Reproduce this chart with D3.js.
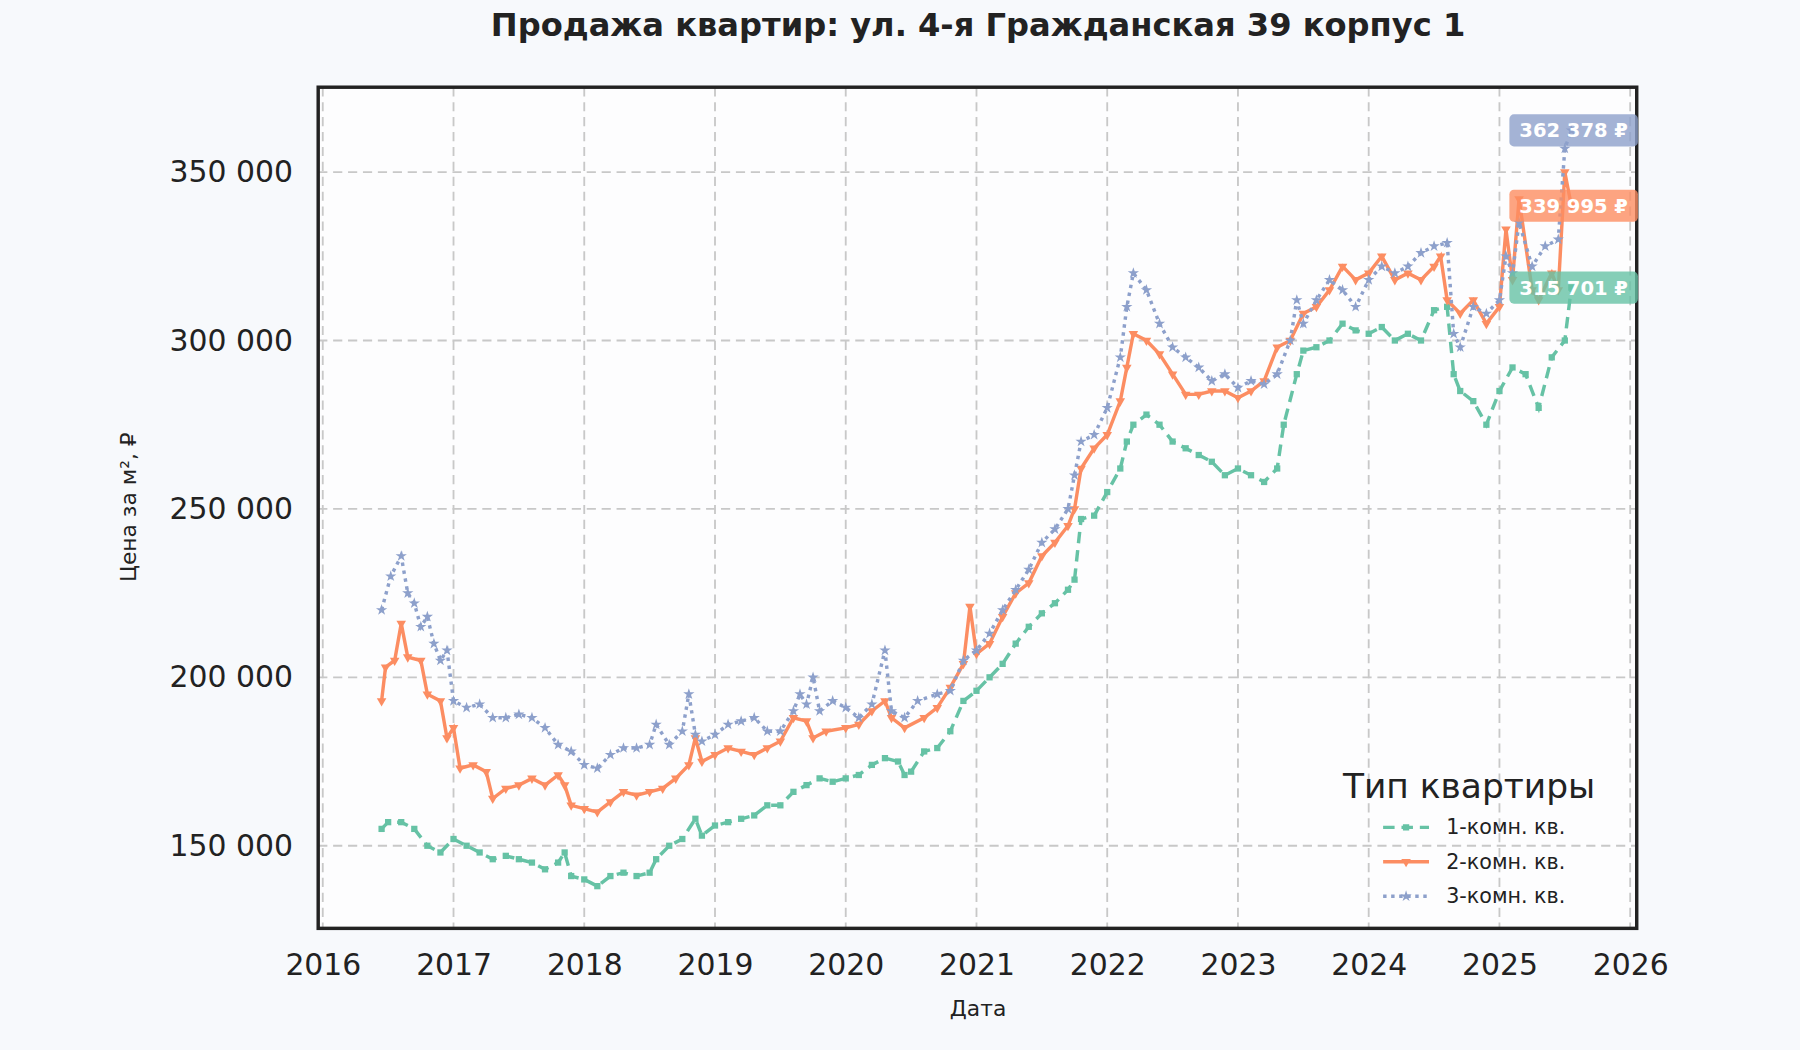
<!DOCTYPE html>
<html>
<head>
<style>
  body { margin: 0; background: #f7f9fc; }
  svg { display: block; font-family: "DejaVu Sans", sans-serif; }
  .grid line { stroke: #c8c8c8; stroke-dasharray: 8,5; stroke-width: 1.6; }
  .tick text { fill: #222; font-size: 26px; }
</style>
</head>
<body>
<svg id="chart" width="1800" height="1050" viewBox="0 0 1568 915"></svg>
<script src="https://d3js.org/d3.v7.min.js"></script>
<script>
// 1-комн. кв.
const dates1 = [2016.45,2016.5,2016.6,2016.7,2016.8,2016.9,2017.0,2017.1,2017.2,2017.3,2017.4,2017.5,2017.6,2017.7,2017.8,2017.85,2017.9,2018.0,2018.1,2018.2,2018.3,2018.4,2018.5,2018.55,2018.65,2018.75,2018.85,2018.9,2019.0,2019.1,2019.2,2019.3,2019.4,2019.5,2019.6,2019.7,2019.8,2019.9,2020.0,2020.1,2020.2,2020.3,2020.4,2020.45,2020.5,2020.6,2020.7,2020.8,2020.9,2021.0,2021.1,2021.2,2021.3,2021.4,2021.5,2021.6,2021.7,2021.75,2021.8,2021.9,2022.0,2022.1,2022.15,2022.2,2022.3,2022.4,2022.5,2022.6,2022.7,2022.8,2022.9,2023.0,2023.1,2023.2,2023.3,2023.35,2023.45,2023.5,2023.6,2023.7,2023.8,2023.9,2024.0,2024.1,2024.2,2024.3,2024.4,2024.5,2024.6,2024.65,2024.7,2024.8,2024.9,2025.0,2025.1,2025.2,2025.3,2025.4,2025.5,2025.55];
const values1 = [155000,157000,157000,155000,150000,148000,152000,150000,148000,146000,147000,146000,145000,143000,145000,148000,141000,140000,138000,141000,142000,141000,142000,146000,150000,152000,158000,153000,156000,157000,158000,159000,162000,162000,166000,168000,170000,169000,170000,171000,174000,176000,175000,171000,172000,178000,179000,184000,193000,196000,200000,204000,210000,215000,219000,222000,226000,229000,247000,248000,255000,262000,270000,275000,278000,275000,270000,268000,266000,264000,260000,262000,260000,258000,262000,275000,290000,297000,298000,300000,305000,303000,302000,304000,300000,302000,300000,309000,310000,290000,285000,282000,275000,285000,292000,290000,280000,295000,300000,315701];
// 2-комн. кв.
const dates2 = [2016.45,2016.48,2016.55,2016.6,2016.65,2016.75,2016.8,2016.9,2016.95,2017.0,2017.05,2017.15,2017.25,2017.3,2017.4,2017.5,2017.6,2017.7,2017.8,2017.85,2017.9,2018.0,2018.1,2018.2,2018.3,2018.4,2018.5,2018.6,2018.7,2018.8,2018.85,2018.9,2019.0,2019.1,2019.2,2019.3,2019.4,2019.5,2019.6,2019.7,2019.75,2019.85,2020.0,2020.1,2020.2,2020.3,2020.35,2020.45,2020.6,2020.7,2020.8,2020.9,2020.95,2021.0,2021.1,2021.2,2021.3,2021.4,2021.5,2021.6,2021.7,2021.75,2021.8,2021.9,2022.0,2022.1,2022.15,2022.2,2022.3,2022.4,2022.5,2022.6,2022.7,2022.8,2022.9,2023.0,2023.1,2023.2,2023.3,2023.4,2023.5,2023.6,2023.7,2023.8,2023.9,2024.0,2024.1,2024.2,2024.3,2024.4,2024.5,2024.55,2024.6,2024.7,2024.8,2024.9,2025.0,2025.05,2025.1,2025.15,2025.25,2025.3,2025.4,2025.45,2025.5,2025.55];
const values2 = [193000,203000,205000,216000,206000,205000,195000,193000,182000,185000,173000,174000,172000,164000,167000,168000,170000,168000,171000,168000,162000,161000,160000,163000,166000,165000,166000,167000,170000,174000,182000,175000,177000,179000,178000,177000,179000,181000,188000,187000,182000,184000,185000,186000,190000,193000,188000,185000,188000,191000,197000,204000,221000,207000,210000,218000,225000,228000,236000,240000,245000,250000,262000,268000,272000,282000,292000,302000,300000,296000,290000,284000,284000,285000,285000,283000,285000,288000,298000,300000,308000,310000,315000,322000,318000,320000,325000,318000,320000,318000,322000,325000,312000,308000,312000,305000,310000,333000,318000,342000,315000,312000,320000,315000,350000,339995];
// 3-комн. кв.
const dates3 = [2016.45,2016.52,2016.6,2016.65,2016.7,2016.75,2016.8,2016.85,2016.9,2016.95,2017.0,2017.1,2017.2,2017.3,2017.4,2017.5,2017.6,2017.7,2017.8,2017.9,2018.0,2018.1,2018.2,2018.3,2018.4,2018.5,2018.55,2018.65,2018.75,2018.8,2018.85,2018.9,2019.0,2019.1,2019.2,2019.3,2019.4,2019.5,2019.6,2019.65,2019.7,2019.75,2019.8,2019.9,2020.0,2020.1,2020.2,2020.3,2020.35,2020.45,2020.55,2020.7,2020.8,2020.9,2021.0,2021.1,2021.2,2021.3,2021.4,2021.5,2021.6,2021.7,2021.75,2021.8,2021.9,2022.0,2022.1,2022.15,2022.2,2022.3,2022.4,2022.5,2022.6,2022.7,2022.8,2022.9,2023.0,2023.1,2023.2,2023.3,2023.4,2023.45,2023.5,2023.6,2023.7,2023.8,2023.9,2024.0,2024.1,2024.2,2024.3,2024.4,2024.5,2024.6,2024.65,2024.7,2024.8,2024.9,2025.0,2025.05,2025.1,2025.15,2025.25,2025.35,2025.45,2025.5,2025.55];
const values3 = [220000,230000,236000,225000,222000,215000,218000,210000,205000,208000,193000,191000,192000,188000,188000,189000,188000,185000,180000,178000,174000,173000,177000,179000,179000,180000,186000,180000,184000,195000,183000,181000,183000,186000,187000,188000,184000,184000,190000,195000,192000,200000,190000,193000,191000,188000,192000,208000,190000,188000,193000,195000,196000,205000,208000,213000,220000,226000,232000,240000,244000,250000,260000,270000,272000,280000,295000,310000,320000,315000,305000,298000,295000,292000,288000,290000,286000,288000,287000,290000,300000,312000,305000,312000,318000,315000,310000,318000,322000,320000,322000,326000,328000,329000,302000,298000,310000,308000,312000,325000,320000,335000,322000,328000,330000,357000,362378];

const seriesNames = ["1-комн. кв.", "2-комн. кв.", "3-комн. кв."];
const colors = ["#66c2a5", "#fc8d62", "#8da0cb"];
const yTicks = [150000, 200000, 250000, 300000, 350000];
const xTicks = [2016,2017,2018,2019,2020,2021,2022,2023,2024,2025,2026];

const series = [
  {name: seriesNames[0], color: colors[0], dash: "10,6", sym: d3.symbolSquare, pts: dates1.map((d, i) => [d, values1[i]])},
  {name: seriesNames[1], color: colors[1], dash: null, sym: d3.symbolTriangle, pts: dates2.map((d, i) => [d, values2[i]])},
  {name: seriesNames[2], color: colors[2], dash: "3,4", sym: d3.symbolStar, pts: dates3.map((d, i) => [d, values3[i]])}
];

const svg = d3.select("#chart");
const m = {left: 277, right: 1426, top: 76, bottom: 809};
const x = d3.scaleLinear().domain([2015.965, 2026.05]).range([m.left, m.right]);
const y = d3.scaleLinear().domain([125470, 375200]).range([m.bottom, m.top]);
const fmt = v => d3.format(",")(v).replace(/,/g, " ");

svg.append("text").attr("x", 852).attr("y", 31).attr("text-anchor", "middle")
  .attr("font-size", 28).attr("font-weight", "bold").attr("fill", "#222")
  .text("Продажа квартир: ул. 4-я Гражданская 39 корпус 1");

svg.append("rect").attr("x", m.left).attr("y", m.top)
  .attr("width", m.right - m.left).attr("height", m.bottom - m.top).attr("fill", "#fdfdfe");

// grid
const grid = svg.append("g").attr("class", "grid");
grid.selectAll(".gx").data(xTicks).enter().append("line")
  .attr("x1", d => x(d)).attr("x2", d => x(d)).attr("y1", m.top).attr("y2", m.bottom);
grid.selectAll(".gy").data(yTicks).enter().append("line")
  .attr("x1", m.left).attr("x2", m.right).attr("y1", d => y(d)).attr("y2", d => y(d));

// axes
svg.append("g").attr("transform", `translate(0,${m.bottom})`)
  .call(d3.axisBottom(x).tickValues(xTicks).tickFormat(d3.format("d")).tickSize(0).tickPadding(22))
  .attr("font-family", "DejaVu Sans").attr("font-size", 26)
  .call(g => g.select(".domain").remove());
svg.append("g").attr("transform", `translate(${m.left},0)`)
  .call(d3.axisLeft(y).tickValues(yTicks).tickFormat(fmt).tickSize(0).tickPadding(22))
  .attr("font-family", "DejaVu Sans").attr("font-size", 26)
  .call(g => g.select(".domain").remove());

svg.append("text").attr("x", 852).attr("y", 885).attr("text-anchor", "middle")
  .attr("font-size", 19).attr("fill", "#222").text("Дата");
svg.append("text").attr("transform", "translate(118,442) rotate(-90)").attr("text-anchor", "middle")
  .attr("font-size", 19).attr("fill", "#222").text("Цена за м², ₽");

// lines
const line = d3.line().x(d => x(d[0])).y(d => y(d[1]));
series.forEach(s => {
  svg.append("path").datum(s.pts).attr("d", line).attr("fill", "none")
    .attr("stroke", s.color).attr("stroke-width", 3).attr("stroke-dasharray", s.dash);
  svg.append("g").selectAll("path").data(s.pts).enter().append("path")
    .attr("d", d3.symbol().type(s.sym).size(30))
    .attr("transform", d => `translate(${x(d[0])},${y(d[1])})` + (s.sym === d3.symbolTriangle ? " rotate(180)" : ""))
    .attr("fill", s.color);
});

svg.append("rect").attr("x", m.left).attr("y", m.top)
  .attr("width", m.right - m.left).attr("height", m.bottom - m.top)
  .attr("fill", "none").attr("stroke", "#222").attr("stroke-width", 3);

// last value labels, centred on the last point
series.forEach(s => {
  const last = s.pts[s.pts.length - 1];
  const g = svg.append("g").attr("transform", `translate(${x(last[0])},${y(last[1])})`);
  g.append("rect").attr("x", -54).attr("y", -14).attr("width", 112).attr("height", 28).attr("rx", 4)
    .attr("fill", s.color).attr("opacity", 0.8);
  g.append("text").attr("x", 2).attr("y", 6).attr("text-anchor", "middle").attr("font-size", 17)
    .attr("font-weight", "bold").attr("fill", "#fff").text(fmt(last[1]) + " ₽");
});

// legend
const lg = svg.append("g").attr("transform", "translate(1170,0)");
lg.append("text").attr("x", 0).attr("y", 695).attr("font-size", 30).attr("fill", "#222").text("Тип квартиры");
series.forEach((s, i) => {
  const yy = 721 + i * 30;
  lg.append("line").attr("x1", 35).attr("x2", 75).attr("y1", yy).attr("y2", yy)
    .attr("stroke", s.color).attr("stroke-width", 3).attr("stroke-dasharray", s.dash);
  lg.append("path").attr("d", d3.symbol().type(s.sym).size(30))
    .attr("transform", `translate(55,${yy})` + (s.sym === d3.symbolTriangle ? " rotate(180)" : ""))
    .attr("fill", s.color);
  lg.append("text").attr("x", 90).attr("y", yy + 6).attr("font-size", 18).attr("fill", "#222").text(s.name);
});
</script>
</body>
</html>
